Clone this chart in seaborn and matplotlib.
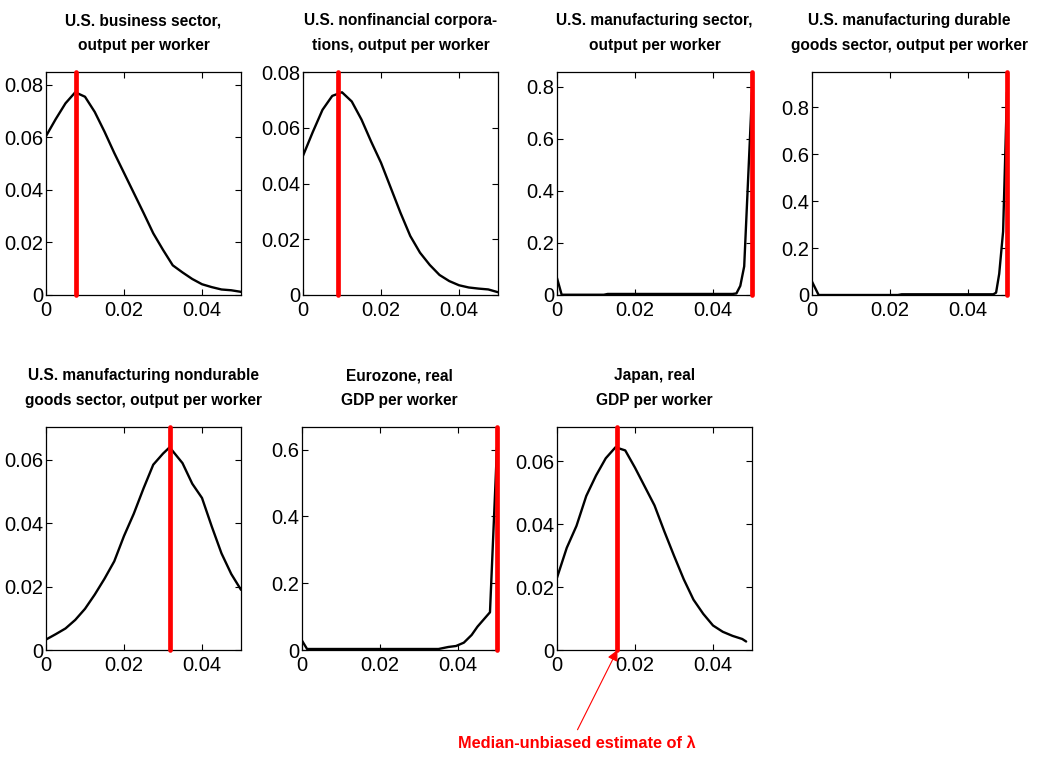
import matplotlib
matplotlib.use("Agg")
import matplotlib.pyplot as plt
from matplotlib import font_manager
from matplotlib.ticker import FuncFormatter, MultipleLocator
import seaborn as sns

sns.set_theme(style="ticks")

installed = {f.name for f in font_manager.fontManager.ttflist}
if "Liberation Sans Narrow" in installed:
    FAMILY, FS = "Liberation Sans Narrow", 1.0
else:
    FAMILY, FS = "Liberation Sans", 0.88
plt.rcParams["font.family"] = [FAMILY, "DejaVu Sans"]

# ---- data: density of the estimate over the lambda grid -------------------
grid = [0.0, 0.0025, 0.005, 0.0075, 0.01, 0.0125, 0.015, 0.0175, 0.02,
        0.0225, 0.025, 0.0275, 0.03, 0.0325, 0.035, 0.0375, 0.04, 0.0425,
        0.045, 0.0475, 0.05]

bus_y = [0.0605, 0.0670, 0.0730, 0.0772, 0.0755, 0.0697, 0.0622, 0.0541,
         0.0465, 0.0389, 0.0313, 0.0235, 0.0172, 0.0113, 0.0086, 0.0061,
         0.0041, 0.0030, 0.0021, 0.0018, 0.0012]

nfc_y = [0.0500, 0.0585, 0.0665, 0.0715, 0.0728, 0.0695, 0.0630, 0.0550,
         0.0475, 0.0385, 0.0295, 0.0212, 0.0152, 0.0108, 0.0072, 0.0050,
         0.0035, 0.0027, 0.0023, 0.0020, 0.0010]

mfg_x = [0.0, 0.0012, 0.012, 0.013, 0.045, 0.046, 0.047, 0.048, 0.05]
mfg_y = [0.065, 0.001, 0.001, 0.004, 0.004, 0.006, 0.035, 0.11, 0.778]

dur_x = [0.0, 0.0017, 0.022, 0.023, 0.0465, 0.0472, 0.048, 0.049, 0.05]
dur_y = [0.057, 0.0, 0.0, 0.003, 0.003, 0.010, 0.090, 0.270, 0.863]

ndur_x = [0.0, 0.0025, 0.005, 0.0075, 0.01, 0.0125, 0.015, 0.0175, 0.02,
          0.0225, 0.025, 0.0275, 0.03, 0.0317, 0.035, 0.0375, 0.04, 0.0425,
          0.045, 0.0475, 0.05]
ndur_y = [0.0033, 0.0050, 0.0068, 0.0095, 0.0130, 0.0175, 0.0225, 0.0280,
          0.0360, 0.0430, 0.0510, 0.0585, 0.0620, 0.0640, 0.0590, 0.0525,
          0.0480, 0.0390, 0.0305, 0.0240, 0.0190]

euro_x = [0.0, 0.0013, 0.035, 0.0375, 0.0395, 0.0415, 0.0435, 0.045,
          0.0482, 0.05]
euro_y = [0.028, 0.003, 0.003, 0.009, 0.012, 0.022, 0.045, 0.070, 0.113,
          0.607]

jpn_x = [0.0, 0.0025, 0.005, 0.0075, 0.01, 0.0125, 0.015, 0.0175, 0.02,
         0.0225, 0.025, 0.0275, 0.03, 0.0325, 0.035, 0.0375, 0.04, 0.0425,
         0.045, 0.0475, 0.0485]
jpn_y = [0.0230, 0.0325, 0.0395, 0.0490, 0.0555, 0.0610, 0.0645, 0.0635,
         0.0580, 0.0520, 0.0460, 0.0378, 0.0300, 0.0225, 0.0160, 0.0115,
         0.0078, 0.0058, 0.0045, 0.0035, 0.0027]

titles = [
    "U.S. business sector,\noutput per worker",
    "U.S. nonfinancial corpora-\ntions, output per worker",
    "U.S. manufacturing sector,\noutput per worker",
    "U.S. manufacturing durable\ngoods sector, output per worker",
    "U.S. manufacturing nondurable\ngoods sector, output per worker",
    "Eurozone, real\nGDP per worker",
    "Japan, real\nGDP per worker",
]
median_unbiased = [0.0076, 0.0090, 0.05, 0.05, 0.0317, 0.05, 0.0155]
curves = [(grid, bus_y), (grid, nfc_y), (mfg_x, mfg_y), (dur_x, dur_y),
          (ndur_x, ndur_y), (euro_x, euro_y), (jpn_x, jpn_y)]
ystep = [0.02, 0.02, 0.2, 0.2, 0.02, 0.2, 0.02]

# ---- layout (pixel boxes on a 1045 x 758 canvas) --------------------------
W, H = 1045, 758
boxes = [(46, 72), (303, 72), (557, 72), (812, 72),
         (46, 427), (302, 427), (557, 427)]
AW, AH = 195, 223

fig = plt.figure(figsize=(W / 100, H / 100), dpi=100)
fmt = FuncFormatter(lambda v, p: "%g" % round(v, 4))

axes = []
for i, ((left, top), (xs, ys)) in enumerate(zip(boxes, curves)):
    ax = fig.add_axes([left / W, 1 - (top + AH) / H, AW / W, AH / H])
    ax.set_facecolor("white")
    sns.lineplot(x=xs, y=ys, ax=ax, color="black", linewidth=1.7,
                 estimator=None, sort=False)
    ax.axvline(median_unbiased[i], color="#ff0000", linewidth=3.4,
               clip_on=False, solid_capstyle="round", zorder=5)
    ax.set_xlim(0, 0.05)
    ax.set_ylim(0, 1.1 * max(ys))
    ax.xaxis.set_major_locator(MultipleLocator(0.02))
    ax.yaxis.set_major_locator(MultipleLocator(ystep[i]))
    ax.xaxis.set_major_formatter(fmt)
    ax.yaxis.set_major_formatter(fmt)
    ax.tick_params(direction="in", length=4, width=0.8, top=True, right=True,
                   labelsize=16.5 * FS, colors="black")
    ax.tick_params(axis="y", pad=2)
    ax.tick_params(axis="x", pad=4)
    for s in ax.spines.values():
        s.set_visible(True)
        s.set_color("black")
        s.set_linewidth(0.9)
    ax.set_title(titles[i], fontsize=12.7 * FS, fontweight="bold",
                 linespacing=1.85, pad=15.5, color="black")
    axes.append(ax)

# label pointing at the Japan estimate
axes[6].annotate(
    "Median-unbiased estimate of λ",
    xy=(median_unbiased[6], 0), xycoords="data",
    xytext=(577, 758 - 743), textcoords="figure pixels",
    ha="center", va="center", color="#ff0000", fontsize=14 * 0.84 / 0.88 * FS,
    fontweight="bold", annotation_clip=False,
    arrowprops=dict(arrowstyle="-|>", color="#ff0000", lw=0.8,
                    mutation_scale=16, shrinkA=2, shrinkB=0,
                    relpos=(0.49, 1.0)),
)

fig.savefig("out.png", dpi=100, facecolor="white")
